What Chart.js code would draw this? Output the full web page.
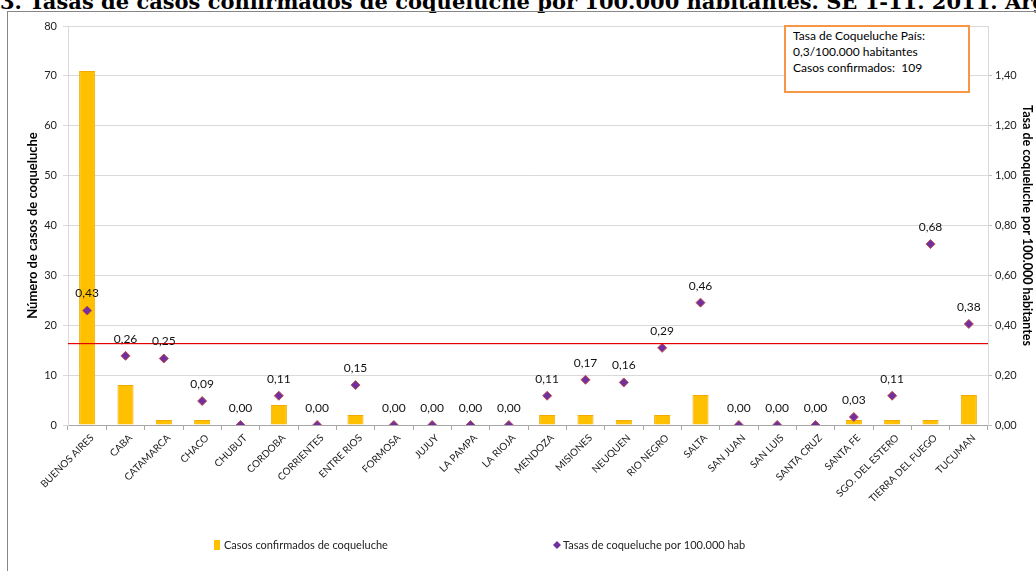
<!DOCTYPE html>
<html>
<head>
<meta charset="utf-8">
<script src="https://cdn.jsdelivr.net/npm/chart.js@4.4.1/dist/chart.umd.min.js"></script>
<style>
  html, body { margin: 0; padding: 0; background: #fff; overflow: hidden; }
  body { width: 1036px; height: 571px; position: relative; }
  #title {
    position: absolute; left: 0; top: -9px; white-space: nowrap;
    font: bold 21px/21px "DejaVu Serif", serif; color: #000;
  }
  #frame {
    position: absolute; left: 7px; top: 11px; width: 1029px; height: 560px;
    border-left: 1px solid #868686; border-top: 1px solid #868686;
  }
  #note {
    position: absolute; left: 784px; top: 25px; width: 175px; height: 63px;
    border: 2px solid #F79646; background: #fff;
    font: 12px/16px Lato, sans-serif; color: #000; padding: 1px 0 0 7px;
  }
</style>
</head>
<body>
<div id="title">3. Tasas de casos confirmados de coqueluche por 100.000 habitantes. SE 1-11. 2011. Argentina</div>
<div id="frame"><canvas id="myChart" width="1028" height="559"></canvas></div>
<div id="note">Tasa de Coqueluche País:<br>0,3/100.000 habitantes<br>Casos confirmados:&nbsp; 109</div>
<script>
const gProvincias = ['BUENOS AIRES', 'CABA', 'CATAMARCA', 'CHACO', 'CHUBUT', 'CORDOBA', 'CORRIENTES',
  'ENTRE RIOS', 'FORMOSA', 'JUJUY', 'LA PAMPA', 'LA RIOJA', 'MENDOZA', 'MISIONES', 'NEUQUEN',
  'RIO NEGRO', 'SALTA', 'SAN JUAN', 'SAN LUIS', 'SANTA CRUZ', 'SANTA FE', 'SGO. DEL ESTERO',
  'TIERRA DEL FUEGO', 'TUCUMAN']
const gCasos = [71, 8, 1, 1, 0, 4, 0, 2, 0, 0, 0, 0, 2, 2, 1, 2, 6, 0, 0, 0, 1, 1, 1, 6]
const gTasas = [0.43, 0.26, 0.25, 0.09, 0.00, 0.11, 0.00, 0.15, 0.00, 0.00, 0.00, 0.00, 0.11, 0.17,
  0.16, 0.29, 0.46, 0.00, 0.00, 0.00, 0.03, 0.11, 0.68, 0.38]
const gTasaPais = 0.31
const gRightMax = 1.5
const gRightTicks = ['0,00', '0,20', '0,40', '0,60', '0,80', '1,00', '1,20', '1,40']

const fmt = v => v.toFixed(2).replace('.', ',')

// red reference line, value labels above the diamonds, legend
const extras = {
  id: 'extras',
  afterDatasetsDraw(chart) {
    const { ctx, chartArea } = chart
    const y = Math.round(chart.scales.y2.getPixelForValue(gTasaPais))
    ctx.save()
    ctx.fillStyle = 'rgb(230, 0, 0)'
    ctx.fillRect(chartArea.left, y, chartArea.right - chartArea.left, 1.2)

    ctx.fillStyle = '#111'
    ctx.font = '12px Lato, sans-serif'
    ctx.textAlign = 'center'
    ctx.textBaseline = 'middle'
    chart.getDatasetMeta(1).data.forEach((pt, i) => {
      ctx.fillText(fmt(gTasas[i]), pt.x, pt.y - 17)
    })

    ctx.font = '11px Lato, sans-serif'
    ctx.textAlign = 'left'
    ctx.fillStyle = '#FFC000'
    ctx.fillRect(206, 528, 6, 10)
    ctx.fillStyle = '#222'
    ctx.fillText(chart.data.datasets[0].label, 216, 533)
    ctx.fillStyle = '#7030A0'
    ctx.beginPath()
    ctx.moveTo(549, 529); ctx.lineTo(553, 533); ctx.lineTo(549, 537); ctx.lineTo(545, 533)
    ctx.closePath(); ctx.fill()
    ctx.fillStyle = '#222'
    ctx.fillText(chart.data.datasets[1].label, 555, 533)
    ctx.restore()
  }
}

Chart.defaults.font.family = 'Lato, sans-serif'
Chart.defaults.color = '#333'

const ctx = document.getElementById('myChart').getContext('2d')
new Chart(ctx, {
  data: {
    labels: gProvincias,
    datasets: [{
      type: 'bar',
      label: 'Casos confirmados de coqueluche',
      data: gCasos,
      yAxisID: 'y',
      backgroundColor: '#FFC000',
      borderColor: '#F2A900',
      borderWidth: 1,
      barPercentage: 1,
      categoryPercentage: 0.42,
      order: 2
    }, {
      type: 'line',
      label: 'Tasas de coqueluche por 100.000 hab',
      data: gTasas,
      yAxisID: 'y2',
      showLine: false,
      pointStyle: 'rectRot',
      pointRadius: 4.5,
      pointBackgroundColor: '#7030A0',
      pointBorderColor: '#C0504D',
      pointBorderWidth: 1,
      order: 1
    }]
  },
  options: {
    responsive: false,
    devicePixelRatio: 1,
    animation: false,
    layout: { padding: { top: 14, left: 0, right: 0, bottom: 0 } },
    plugins: {
      legend: { display: false },
      tooltip: { enabled: false }
    },
    scales: {
      x: {
        grid: { display: true, drawOnChartArea: false, drawTicks: true, tickLength: 5, color: '#A6A6A6', offset: true },
        border: { color: '#A6A6A6' },
        ticks: { autoSkip: false, maxRotation: 45, minRotation: 45, padding: 2, labelOffset: 5, font: { size: 10 }, color: '#222' },
        afterFit(scale) { scale.height = 146 }
      },
      y: {
        position: 'left',
        min: 0, max: 80,
        ticks: { stepSize: 10, padding: 6, font: { size: 11 }, color: '#222' },
        grid: { color: '#D9D9D9', tickLength: 5 },
        border: { color: '#D9D9D9' },
        title: { display: true, text: 'Número de casos de coqueluche', font: { size: 13, weight: 'bold' }, color: '#000', padding: { top: 17 } },
        afterFit(scale) { scale.width = 60 }
      },
      y2: {
        position: 'right',
        min: 0, max: gRightMax,
        afterBuildTicks(scale) {
          scale.ticks = gRightTicks.map((_, i) => ({ value: i * gRightMax / 8 }))
        },
        ticks: { padding: 3, font: { size: 11 }, color: '#222', callback: (v, i) => gRightTicks[i] },
        grid: { drawOnChartArea: false, tickLength: 4, color: '#BFBFBF' },
        border: { color: '#D9D9D9' },
        title: { display: true, text: 'Tasa de coqueluche por 100.000 habitantes', font: { size: 12.5, weight: 'bold' }, color: '#000', padding: { top: 1 } },
        afterFit(scale) { scale.width = 48 }
      }
    }
  },
  plugins: [extras]
})
</script>
</body>
</html>
